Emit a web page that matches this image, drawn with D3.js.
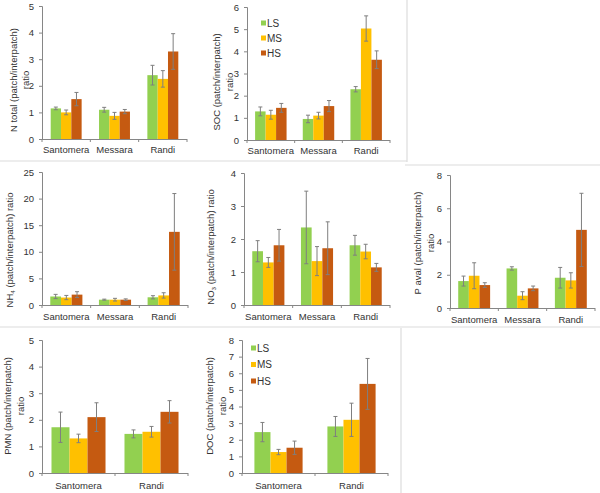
<!DOCTYPE html>
<html>
<head>
<meta charset="utf-8">
<script src="https://cdn.jsdelivr.net/npm/d3@7"></script>
<style>
  html, body { margin: 0; padding: 0; background: #fff; }
  svg { display: block; font-family: "Liberation Sans", Arial, sans-serif; }
</style>
</head>
<body>
<svg id="chart" width="600" height="493"></svg>
<script>
// ---------- DATA ----------
const sites3 = ["Santomera", "Messara", "Randi"];
const sites2 = ["Santomera", "Randi"];
const seriesNames = ["LS", "MS", "HS"];
const seriesColors = ["#92D050", "#FFC000", "#C55A11"];

// rows = site, columns = LS, MS, HS
const nTotalVals = [[1.15, 1.0, 1.5], [1.1, 0.87, 1.03], [2.4, 2.26, 3.29]];
const nTotalErrs = [[0.05, 0.09, 0.25], [0.09, 0.13, 0.08], [0.37, 0.31, 0.67]];
const nTotalTicks = [0, 1, 2, 3, 4, 5];

const socVals = [[1.29, 1.14, 1.45], [0.95, 1.1, 1.53], [2.29, 5.03, 3.62]];
const socErrs = [[0.2, 0.2, 0.2], [0.17, 0.15, 0.25], [0.12, 0.57, 0.4]];
const socTicks = [0, 1, 2, 3, 4, 5, 6];

const nh4Vals = [[1.6, 1.4, 1.95], [1.0, 1.0, 1.0], [1.45, 1.8, 13.75]];
const nh4Errs = [[0.4, 0.4, 0.55], [0.1, 0.25, 0.15], [0.3, 0.5, 7.2]];
const nh4Ticks = [0, 5, 10, 15, 20, 25];

const no3Vals = [[1.63, 1.29, 1.81], [2.35, 1.33, 1.72], [1.81, 1.62, 1.14]];
const no3Errs = [[0.32, 0.15, 0.48], [1.1, 0.44, 0.8], [0.3, 0.22, 0.12]];
const no3Ticks = [0, 1, 2, 3, 4];

const pavalVals = [[1.62, 1.94, 1.38], [2.38, 0.74, 1.18], [1.82, 1.66, 4.7]];
const pavalErrs = [[0.3, 0.78, 0.14], [0.1, 0.24, 0.14], [0.62, 0.46, 2.2]];
const pavalTicks = [0, 2, 4, 6, 8];

const pmnVals = [[1.72, 1.3, 2.1], [1.47, 1.55, 2.3]];
const pmnErrs = [[0.57, 0.16, 0.54], [0.15, 0.2, 0.42]];
const pmnTicks = [0, 1, 2, 3, 4, 5];

const docVals = [[2.46, 1.26, 1.52], [2.8, 3.2, 5.36]];
const docErrs = [[0.58, 0.16, 0.4], [0.6, 1.0, 1.53]];
const docTicks = [0, 1, 2, 3, 4, 5, 6, 7, 8];

// ---------- LAYOUT ----------
const svg = d3.select("#chart");
const FONT = 9.5;
const AXIS_COLOR = "#868686";
const TEXT_COLOR = "#333";

// panel borders
const borderColor = "#dcdcdc";
const borders = [
  [0, 161, 407, 161], [407, 0, 407, 162],
  [405, 165, 600, 165],
  [0, 327, 600, 327],
  [401, 328, 401, 493]
];
svg.append("g").selectAll("line").data(borders).join("line")
  .attr("x1", d => d[0]).attr("y1", d => d[1]).attr("x2", d => d[2]).attr("y2", d => d[3])
  .attr("stroke", borderColor).attr("stroke-width", 1.2);

function drawPanel(cfg) {
  const g = svg.append("g");
  const x = d3.scaleBand().domain(cfg.sites).range([cfg.x0, cfg.x1])
    .paddingInner(cfg.pad).paddingOuter(cfg.pad / 2);
  const xs = d3.scaleBand().domain(seriesNames).range([0, x.bandwidth()]);
  const y = d3.scaleLinear().domain([0, d3.max(cfg.ticks)]).range([cfg.yBot, cfg.yTop]);

  // y axis
  const yAxis = d3.axisLeft(y).tickValues(cfg.ticks).tickSize(3).tickPadding(5).tickFormat(d3.format("d"));
  const ya = g.append("g").attr("transform", `translate(${cfg.x0},0)`).call(yAxis);
  ya.select(".domain").attr("stroke", AXIS_COLOR);
  ya.selectAll(".tick line").attr("stroke", AXIS_COLOR);
  ya.selectAll(".tick text").attr("fill", TEXT_COLOR).style("font-size", FONT + "px").style("font-family", "Liberation Sans, Arial, sans-serif");

  // x axis line + ticks at band boundaries
  g.append("line").attr("x1", cfg.x0).attr("x2", cfg.x1).attr("y1", cfg.yBot + 0.5).attr("y2", cfg.yBot + 0.5)
    .attr("stroke", AXIS_COLOR);
  const bounds = d3.range(cfg.sites.length + 1).map(i => cfg.x0 + i * (cfg.x1 - cfg.x0) / cfg.sites.length);
  g.selectAll(".xt").data(bounds).join("line")
    .attr("x1", d => d).attr("x2", d => d).attr("y1", cfg.yBot).attr("y2", cfg.yBot + 3)
    .attr("stroke", AXIS_COLOR);
  g.selectAll(".xl").data(cfg.sites).join("text")
    .attr("x", d => x(d) + x.bandwidth() / 2).attr("y", cfg.yBot + cfg.labelDy)
    .attr("text-anchor", "middle").attr("fill", TEXT_COLOR).style("font-size", FONT + "px")
    .text(d => d);

  // bars
  const flat = [];
  cfg.sites.forEach((s, i) => seriesNames.forEach((n, j) => {
    flat.push({ site: s, ser: n, j, v: cfg.vals[i][j], e: cfg.errs[i][j] });
  }));
  g.selectAll(".bar").data(flat).join("rect")
    .attr("x", d => x(d.site) + xs(d.ser))
    .attr("width", xs.bandwidth())
    .attr("y", d => y(d.v))
    .attr("height", d => y(0) - y(d.v))
    .attr("fill", d => seriesColors[d.j]);

  // error bars
  const eb = g.selectAll(".eb").data(flat).join("g")
    .attr("stroke", "#7f7f7f").attr("stroke-width", 1);
  eb.append("line")
    .attr("x1", d => x(d.site) + xs(d.ser) + xs.bandwidth() / 2)
    .attr("x2", d => x(d.site) + xs(d.ser) + xs.bandwidth() / 2)
    .attr("y1", d => y(d.v + d.e)).attr("y2", d => y(Math.max(0, d.v - d.e)));
  [1, -1].forEach(sg => {
    eb.append("line")
      .attr("x1", d => x(d.site) + xs(d.ser) + xs.bandwidth() / 2 - 2)
      .attr("x2", d => x(d.site) + xs(d.ser) + xs.bandwidth() / 2 + 2)
      .attr("y1", d => y(d.v + sg * d.e)).attr("y2", d => y(d.v + sg * d.e));
  });

  // y title lines
  cfg.title.forEach(t => {
    const txt = g.append("text")
      .attr("transform", `translate(${t.x},${cfg.titleY}) rotate(-90)`)
      .attr("text-anchor", "middle").attr("dominant-baseline", "central")
      .attr("fill", TEXT_COLOR).style("font-size", FONT + "px");
    t.parts.forEach(p => {
      const ts = txt.append("tspan").text(p.t);
      if (p.sub) ts.attr("baseline-shift", "sub").style("font-size", (FONT * 0.65) + "px");
    });
  });

  // legend
  if (cfg.legend) {
    const lg = g.append("g");
    seriesNames.forEach((n, j) => {
      const ly = cfg.legend.y + j * cfg.legend.dy;
      lg.append("rect").attr("x", cfg.legend.x).attr("y", ly - 2.5).attr("width", 5).attr("height", 5)
        .attr("fill", seriesColors[j]);
      lg.append("text").attr("x", cfg.legend.x + 6).attr("y", ly).attr("dominant-baseline", "central")
        .attr("fill", TEXT_COLOR).style("font-size", "10px").text(n);
    });
  }
}

drawPanel({ sites: sites3, vals: nTotalVals, errs: nTotalErrs, ticks: nTotalTicks,
  x0: 42, x1: 187, yTop: 6, yBot: 139, pad: 0.36, labelDy: 14, titleY: 80,
  title: [{ x: 13, parts: [{ t: "N total (patch/interpatch)" }] }, { x: 25, parts: [{ t: "ratio" }] }] });

drawPanel({ sites: sites3, vals: socVals, errs: socErrs, ticks: socTicks,
  x0: 247, x1: 390, yTop: 7, yBot: 140, pad: 0.34, labelDy: 14, titleY: 82,
  title: [{ x: 216, parts: [{ t: "SOC (patch/interpatch)" }] }, { x: 229, parts: [{ t: "ratio" }] }],
  legend: { x: 261, y: 23, dy: 15 } });

drawPanel({ sites: sites3, vals: nh4Vals, errs: nh4Errs, ticks: nh4Ticks,
  x0: 42, x1: 188, yTop: 172, yBot: 305, pad: 0.34, labelDy: 15, titleY: 250,
  title: [{ x: 9, parts: [{ t: "NH" }, { t: "4", sub: true }, { t: " (patch/interpatch) ratio" }] }] });

drawPanel({ sites: sites3, vals: no3Vals, errs: no3Errs, ticks: no3Ticks,
  x0: 244, x1: 390, yTop: 173, yBot: 305, pad: 0.34, labelDy: 15, titleY: 247,
  title: [{ x: 210, parts: [{ t: "NO" }, { t: "3", sub: true }, { t: " (patch/interpatch) ratio" }] }] });

drawPanel({ sites: sites3, vals: pavalVals, errs: pavalErrs, ticks: pavalTicks,
  x0: 450, x1: 595, yTop: 175, yBot: 308, pad: 0.34, labelDy: 15, titleY: 243,
  title: [{ x: 417, parts: [{ t: "P aval (patch/interpatch)" }] }, { x: 430, parts: [{ t: "ratio" }] }] });

drawPanel({ sites: sites2, vals: pmnVals, errs: pmnErrs, ticks: pmnTicks,
  x0: 42, x1: 188, yTop: 340, yBot: 473, pad: 0.26, labelDy: 16, titleY: 406,
  title: [{ x: 7, parts: [{ t: "PMN (patch/interpatch)" }] }, { x: 20, parts: [{ t: "ratio" }] }] });

drawPanel({ sites: sites2, vals: docVals, errs: docErrs, ticks: docTicks,
  x0: 242, x1: 388, yTop: 340, yBot: 473, pad: 0.34, labelDy: 16, titleY: 406,
  title: [{ x: 209, parts: [{ t: "DOC (patch/interpatch)" }] }, { x: 222, parts: [{ t: "ratio" }] }],
  legend: { x: 251, y: 348, dy: 16.5 } });
</script>
</body>
</html>
